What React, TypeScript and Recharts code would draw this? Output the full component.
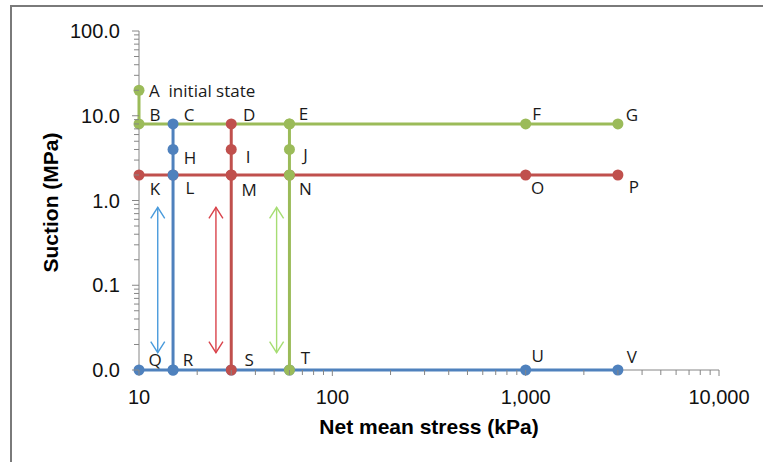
import { ScatterChart, Scatter, XAxis, YAxis, Label } from "recharts";

// stress paths, x = net mean stress (kPa), y = suction (MPa)
const greenStart = [
  { x: 10, y: 20, name: "A" },
  { x: 10, y: 8, name: "B" },
  { x: 60, y: 8, name: "E" },
  { x: 1000, y: 8, name: "F" },
  { x: 3000, y: 8, name: "G" },
];
const redLoad = [
  { x: 10, y: 2, name: "K" },
  { x: 15, y: 2, name: "" },
  { x: 30, y: 2, name: "" },
  { x: 60, y: 2, name: "" },
  { x: 1000, y: 2, name: "O" },
  { x: 3000, y: 2, name: "P" },
];
const blueLoad = [
  { x: 10, y: 0.01, name: "Q" },
  { x: 15, y: 0.01, name: "" },
  { x: 30, y: 0.01, name: "" },
  { x: 60, y: 0.01, name: "" },
  { x: 1000, y: 0.01, name: "U" },
  { x: 3000, y: 0.01, name: "V" },
];
const blueWet = [
  { x: 15, y: 8, name: "C" },
  { x: 15, y: 4, name: "H" },
  { x: 15, y: 2, name: "L" },
  { x: 15, y: 0.01, name: "R" },
];
const redWet = [
  { x: 30, y: 8, name: "D" },
  { x: 30, y: 4, name: "I" },
  { x: 30, y: 2, name: "M" },
  { x: 30, y: 0.01, name: "S" },
];
const greenWet = [
  { x: 60, y: 8, name: "" },
  { x: 60, y: 4, name: "J" },
  { x: 60, y: 2, name: "N" },
  { x: 60, y: 0.01, name: "T" },
];

// double-headed arrows
const ARROW_TOP = 0.83;
const ARROW_BOTTOM = 0.016;
const blueArrow = [{ x: 12.5, y: ARROW_TOP }, { x: 12.5, y: ARROW_BOTTOM }];
const redArrow = [{ x: 25, y: ARROW_TOP }, { x: 25, y: ARROW_BOTTOM }];
const greenArrow = [{ x: 51.5, y: ARROW_TOP }, { x: 51.5, y: ARROW_BOTTOM }];

const xTicks = [
  10, 20, 30, 40, 50, 60, 70, 80, 90, 100, 200, 300, 400, 500, 600, 700, 800, 900,
  1000, 2000, 3000, 4000, 5000, 6000, 7000, 8000, 9000, 10000,
];
const yTicks = [
  0.01, 0.02, 0.03, 0.04, 0.05, 0.06, 0.07, 0.08, 0.09, 0.1, 0.2, 0.3, 0.4, 0.5, 0.6,
  0.7, 0.8, 0.9, 1, 2, 3, 4, 5, 6, 7, 8, 9, 10, 20, 30, 40, 50, 60, 70, 80, 90, 100,
];

const POINT_TEXT: Record<string, string> = { A: "A  initial state" };

// label placement relative to the marker
const LABEL_POS: Record<string, [number, number]> = {
  A: [10, 0],
  B: [16, -9], C: [16, -9], D: [18, -9], E: [14, -10], F: [11, -10], G: [14, -9],
  H: [17, 8], I: [17, 7], J: [16, 5],
  K: [16, 14], L: [17, 13], M: [18, 15], N: [16, 14], O: [12, 13], P: [16, 12],
  Q: [16, -11], R: [15, -11], S: [18, -11], T: [16, -13], U: [12, -15], V: [14, -14],
};

const GREEN = "#9BBB59";
const RED = "#C0504D";
const BLUE = "#4F81BD";
const AXIS = "#868686";
const FONT = "'Liberation Sans', Arial, sans-serif";
const LABEL_FONT = "'Open Sans', 'Noto Sans', sans-serif";

const isMajor = (v: number) => Math.abs(Math.log10(v) - Math.round(Math.log10(v))) < 1e-9;

function pointShape(color: string) {
  return (props: any) => {
    const { cx, cy, payload } = props;
    const name = payload?.name || "";
    const pos = LABEL_POS[name];
    return (
      <g>
        <circle cx={cx} cy={cy} r={5.5} fill={color} />
        {name && pos && (
          <text
            x={cx + pos[0]}
            y={cy + pos[1]}
            textAnchor={name === "A" ? "start" : "middle"}
            dominantBaseline="central"
            fontFamily={LABEL_FONT}
            fontSize={17}
            fill="#1a1a1a"
            style={{ whiteSpace: "pre" }}
          >
            {POINT_TEXT[name] || name}
          </text>
        )}
      </g>
    );
  };
}

function arrowShape(color: string) {
  return (props: any) => {
    const { cx, cy, payload } = props;
    const s = payload?.y === ARROW_TOP ? 1 : -1;
    return (
      <path
        d={`M${cx - 7},${cy + s * 11} L${cx},${cy} L${cx + 7},${cy + s * 11}`}
        fill="none"
        stroke={color}
        strokeWidth={1.4}
      />
    );
  };
}

const XTick = (props: any) => {
  const { x, y, payload } = props;
  const major = isMajor(payload.value);
  return (
    <g>
      <line x1={x} x2={x} y1={y} y2={y + (major ? 6 : 5)} stroke={AXIS} />
      {major && (
        <text x={x} y={y + 27} textAnchor="middle" dominantBaseline="central" fontFamily={FONT} fontSize={20} fill="#111">
          {payload.value.toLocaleString("en-US")}
        </text>
      )}
    </g>
  );
};

const YTick = (props: any) => {
  const { x, y, payload } = props;
  const major = isMajor(payload.value);
  return (
    <g>
      <line x1={x - (major ? 7 : 5)} x2={x} y1={y} y2={y} stroke={AXIS} />
      {major && (
        <text x={x - 19} y={y} textAnchor="end" dominantBaseline="central" fontFamily={FONT} fontSize={20} fill="#111">
          {payload.value.toFixed(1)}
        </text>
      )}
    </g>
  );
};

export default function App() {
  return (
    <div style={{ position: "absolute", left: 0, top: 0, width: 763, height: 462, background: "#fff", overflow: "hidden" }}>
      <div
        style={{
          position: "absolute",
          left: 10,
          top: 5,
          width: 800,
          height: 500,
          borderTop: "2px solid #7a7a7a",
          borderLeft: "2px solid #7a7a7a",
        }}
      />
      <div style={{ position: "absolute", left: 0, top: 0 }}>
        <ScatterChart width={763} height={462} margin={{ top: 31, right: 44, left: 0, bottom: 0 }}>
          <XAxis
            type="number"
            dataKey="x"
            scale="log"
            domain={[10, 10000]}
            ticks={xTicks}
            interval={0}
            height={92}
            tickSize={0}
            tickMargin={0}
            tick={<XTick />}
            stroke={AXIS}
          >
            <Label
              content={(p: any) => {
                const vb = p.viewBox;
                return (
                  <text x={vb.x + vb.width / 2} y={426} textAnchor="middle" dominantBaseline="central" fontFamily={FONT} fontSize={21} fontWeight="bold" fill="#000">
                    Net mean stress (kPa)
                  </text>
                );
              }}
            />
          </XAxis>
          <YAxis
            type="number"
            dataKey="y"
            scale="log"
            domain={[0.01, 100]}
            ticks={yTicks}
            interval={0}
            width={139}
            tickSize={0}
            tickMargin={0}
            tick={<YTick />}
            stroke={AXIS}
          >
            <Label
              content={(p: any) => {
                const vb = p.viewBox;
                const cy = vb.y + vb.height / 2 + 2;
                return (
                  <text x={50} y={cy} transform={`rotate(-90 50 ${cy})`} textAnchor="middle" dominantBaseline="central" fontFamily={FONT} fontSize={21} fontWeight="bold" fill="#000">
                    Suction (MPa)
                  </text>
                );
              }}
            />
          </YAxis>
          <Scatter data={blueArrow} line={{ stroke: "#4A9BDC", strokeWidth: 1.4 }} shape={arrowShape("#4A9BDC")} isAnimationActive={false} />
          <Scatter data={redArrow} line={{ stroke: "#D9434B", strokeWidth: 1.4 }} shape={arrowShape("#D9434B")} isAnimationActive={false} />
          <Scatter data={greenArrow} line={{ stroke: "#A6DD73", strokeWidth: 1.4 }} shape={arrowShape("#A6DD73")} isAnimationActive={false} />
          <Scatter data={blueLoad} line={{ stroke: BLUE, strokeWidth: 3 }} shape={pointShape(BLUE)} isAnimationActive={false} />
          <Scatter data={redLoad} line={{ stroke: RED, strokeWidth: 3 }} shape={pointShape(RED)} isAnimationActive={false} />
          <Scatter data={greenStart} line={{ stroke: GREEN, strokeWidth: 3 }} shape={pointShape(GREEN)} isAnimationActive={false} />
          <Scatter data={greenWet} line={{ stroke: GREEN, strokeWidth: 3 }} shape={pointShape(GREEN)} isAnimationActive={false} />
          <Scatter data={redWet} line={{ stroke: RED, strokeWidth: 3 }} shape={pointShape(RED)} isAnimationActive={false} />
          <Scatter data={blueWet} line={{ stroke: BLUE, strokeWidth: 3 }} shape={pointShape(BLUE)} isAnimationActive={false} />
        </ScatterChart>
      </div>
    </div>
  );
}
